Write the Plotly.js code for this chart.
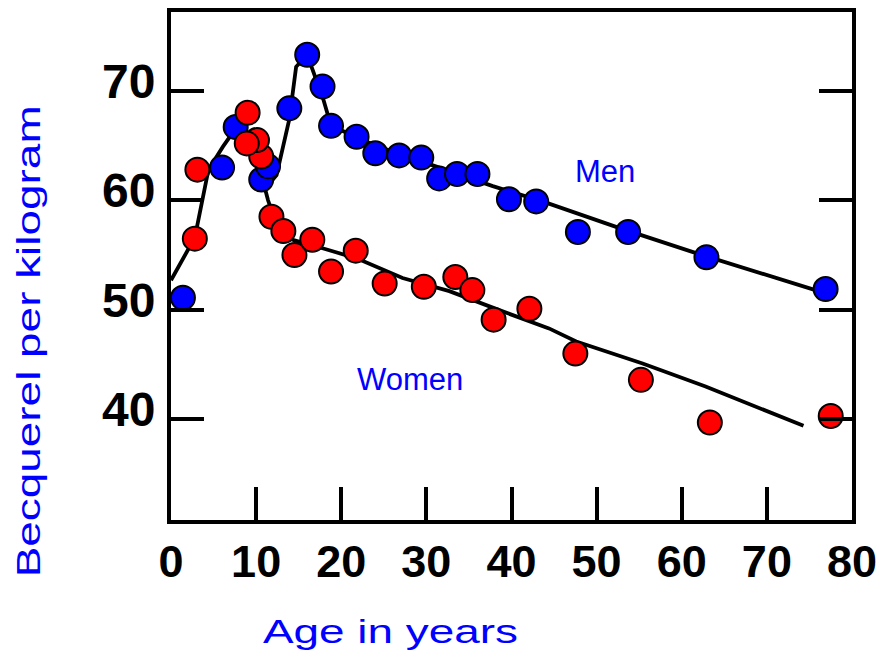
<!DOCTYPE html>
<html>
<head>
<meta charset="utf-8">
<script src="https://cdn.plot.ly/plotly-3.0.1.min.js"></script>
<style>
html, body { margin: 0; padding: 0; background: #ffffff; }
#chart { width: 886px; height: 653px; }
</style>
</head>
<body>
<div id="chart"></div>
<script>
// Men: measured points
var menAge = [1.4, 6.0, 7.6, 10.6, 11.4, 13.9, 16.0, 17.8, 18.8, 21.8, 24.0, 26.8, 29.4, 31.5, 33.6, 36.0, 39.7, 42.9, 47.8, 53.7, 62.9, 76.9];
var menBq  = [51.1, 63.0, 66.7, 61.9, 63.1, 68.4, 73.3, 70.4, 66.8, 65.8, 64.3, 64.1, 63.9, 62.0, 62.4, 62.4, 60.1, 59.9, 57.1, 57.1, 54.8, 51.9];

// Women: measured points
var womenAge = [2.8, 3.1, 10.6, 10.1, 8.9, 9.0, 11.8, 13.2, 14.5, 16.6, 18.8, 21.7, 25.1, 29.7, 33.4, 35.4, 37.9, 42.1, 47.5, 55.2, 63.3, 77.5];
var womenBq  = [56.5, 62.8, 64.0, 65.5, 65.2, 68.0, 58.5, 57.2, 55.0, 56.4, 53.5, 55.4, 52.4, 52.1, 53.0, 51.8, 49.1, 50.1, 46.0, 43.6, 39.7, 40.3];

// Hand-drawn trend curves
var menCurveAge = [0, 2.8, 4.4, 6.1, 8.0, 11.2, 12.4, 13.9, 14.7, 16.0, 16.5, 17.9, 18.8, 24.0, 30.0, 37.8, 44.4, 52.2, 61.6, 75.7];
var menCurveBq  = [52.7, 56.6, 62.8, 64.9, 67.0, 61.2, 62.3, 67.4, 72.2, 73.3, 72.2, 69.2, 66.8, 65.0, 63.4, 61.3, 59.7, 57.6, 55.2, 51.8];
var womenCurveAge = [11.0, 11.4, 12.3, 14.3, 17.9, 21.8, 27.2, 32.7, 38.8, 44.4, 47.6, 55.4, 62.8, 74.3];
var womenCurveBq  = [61.2, 60.0, 58.0, 56.4, 55.6, 54.7, 52.9, 51.7, 49.9, 48.3, 47.1, 45.1, 43.0, 39.4];

// Tick values / labels
var xTicks = [0, 10, 20, 30, 40, 50, 60, 70, 80];
var yTicks = [40, 50, 60, 70];

var lineStyle = {color: '#000000', width: 3.8};
var traces = [
  {x: menCurveAge, y: menCurveBq, mode: 'lines', line: lineStyle, hoverinfo: 'skip', showlegend: false},
  {x: womenCurveAge, y: womenCurveBq, mode: 'lines', line: lineStyle, hoverinfo: 'skip', showlegend: false},
  {x: menAge, y: menBq, mode: 'markers', name: 'Men',
   marker: {color: '#0000ff', size: 24, line: {color: '#000000', width: 2}}, showlegend: false},
  {x: womenAge, y: womenBq, mode: 'markers', name: 'Women',
   marker: {color: '#ff0000', size: 24, line: {color: '#000000', width: 2}}, showlegend: false}
];

var xTickFont = {family: 'Liberation Sans, Arial, sans-serif', size: 45, color: '#000000', weight: 'bold'};
var yTickFont = {family: 'Liberation Sans, Arial, sans-serif', size: 48, color: '#000000', weight: 'bold'};
var titleFont = {family: 'Liberation Sans, Arial, sans-serif', size: 34, color: '#0000ff'};

var layout = {
  width: 886, height: 653,
  margin: {l: 171, r: 34, t: 12, b: 133},
  paper_bgcolor: '#ffffff', plot_bgcolor: '#ffffff',
  showlegend: false,
  xaxis: {
    range: [0, 80], tickmode: 'array', tickvals: xTicks, ticktext: xTicks.map(String),
    showgrid: false, zeroline: false,
    showline: true, linecolor: '#000000', linewidth: 4, mirror: true,
    ticks: 'inside', ticklen: 33, tickwidth: 4, tickcolor: '#000000',
    tickfont: xTickFont, ticklabelstandoff: -1
  },
  yaxis: {
    range: [30.8, 77.2], tickmode: 'array', tickvals: yTicks, ticktext: yTicks.map(String),
    showgrid: false, zeroline: false,
    showline: true, linecolor: '#000000', linewidth: 4, mirror: 'ticks',
    ticks: 'inside', ticklen: 33, tickwidth: 4, tickcolor: '#000000',
    tickfont: yTickFont, ticklabelstandoff: 2, ticklabelshift: -10
  },
  annotations: [
    {text: 'Men', x: 51.0, y: 62.6, xref: 'x', yref: 'y', showarrow: false,
     xanchor: 'center', yanchor: 'middle', font: {family: 'Liberation Sans, Arial, sans-serif', size: 31, color: '#0000ff'}},
    {text: 'Women', x: 28.1, y: 43.6, xref: 'x', yref: 'y', showarrow: false,
     xanchor: 'center', yanchor: 'middle', font: {family: 'Liberation Sans, Arial, sans-serif', size: 31, color: '#0000ff'}},
    {text: 'Age in years', x: 0.3216, y: -0.2185, xref: 'paper', yref: 'paper', showarrow: false,
     xanchor: 'center', yanchor: 'middle', font: titleFont},
    {text: 'Becquerel per kilogram', x: -0.21, y: 0.352, xref: 'paper', yref: 'paper', showarrow: false,
     textangle: -90, xanchor: 'center', yanchor: 'middle', font: titleFont}
  ]
};

Plotly.newPlot('chart', traces, layout, {staticPlot: true, displayModeBar: false}).then(function (gd) {
  // the original's titles are stretched along their length; mimic it
  var stretch = {'Age in years': 255, 'Becquerel per kilogram': 472};
  gd.querySelectorAll('text.annotation-text').forEach(function (t) {
    var w = stretch[t.textContent];
    if (w) {
      t.setAttribute('textLength', w);
      t.setAttribute('lengthAdjust', 'spacingAndGlyphs');
    }
  });
});
</script>
</body>
</html>
